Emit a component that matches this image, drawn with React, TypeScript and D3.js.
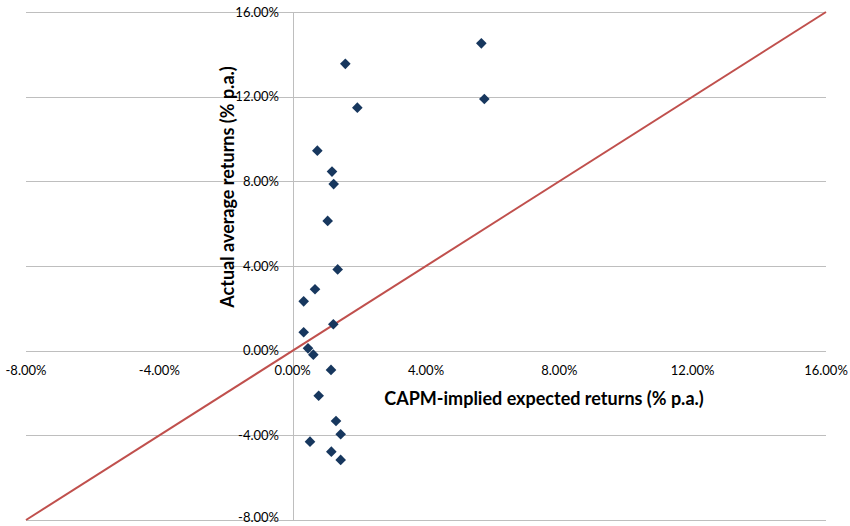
import React from "react";
import * as d3 from "d3";

const capmExpected = [1.58, 1.94, 0.74, 1.18, 1.23, 1.05, 1.35, 0.67, 0.33, 1.22, 0.33, 0.46, 0.62, 1.15, 0.78, 1.30, 1.44, 0.52, 1.16, 1.44, 5.66, 5.75];
const actualAverage = [13.55, 11.48, 9.45, 8.46, 7.87, 6.13, 3.84, 2.90, 2.33, 1.25, 0.87, 0.11, -0.19, -0.91, -2.13, -3.32, -3.95, -4.30, -4.77, -5.16, 14.52, 11.89];
const xTicks = [-8, -4, 0, 4, 8, 12, 16];
const yTicks = [-8, -4, 0, 4, 8, 12, 16];
const xTitle = "CAPM-implied expected returns (% p.a.)";
const yTitle = "Actual average returns (% p.a.)";

const W = 850;
const H = 526;

export default function App() {
  const x = d3.scaleLinear().domain([-8, 16]).range([26, 826]);
  const y = d3.scaleLinear().domain([-8, 16]).range([520, 12]);
  const fmt = (v: number) => v.toFixed(2) + "%";
  const diamond = d3.symbol().type(d3.symbolDiamond2).size(72)();
  const line = d3.line<number>().x((d) => x(d)).y((d) => y(d))([-8, 16]);
  const font = "Lato, 'Open Sans', sans-serif";

  return (
    <svg width={W} height={H} style={{ position: "absolute", left: 0, top: 0, background: "#fff" }}>
      {yTicks.map((t) => (
        <line key={"g" + t} x1={x(-8)} x2={x(16)} y1={Math.round(y(t)) + 0.5} y2={Math.round(y(t)) + 0.5} stroke="#BEBEBE" strokeWidth={1} />
      ))}
      <line x1={Math.round(x(0)) + 0.5} x2={Math.round(x(0)) + 0.5} y1={y(16)} y2={y(-8)} stroke="#BEBEBE" strokeWidth={1} />
      {yTicks.map((t) => (
        <text key={"yl" + t} x={279} y={Math.min(y(t), 517)} dy="0.35em" textAnchor="end" fontFamily={font} fontSize={13} fill="#000">
          {fmt(t)}
        </text>
      ))}
      {xTicks.map((t) => (
        <text key={"xl" + t} x={x(t)} y={370} dy="0.35em" textAnchor="middle" fontFamily={font} fontSize={13} fill="#000">
          {fmt(t)}
        </text>
      ))}
      <path d={line ?? ""} stroke="#C0504D" strokeWidth={2} fill="none" />
      {capmExpected.map((cx, i) => (
        <path key={"p" + i} d={diamond ?? ""} transform={`translate(${x(cx)},${y(actualAverage[i])})`} fill="#17375E" />
      ))}
      <text x={544} y={399} dy="0.35em" textAnchor="middle" fontFamily={font} fontWeight="bold" fontSize={18} fill="#000">
        {xTitle}
      </text>
      <text transform={`translate(228,187) rotate(-90)`} dy="0.35em" textAnchor="middle" fontFamily={font} fontWeight="bold" fontSize={18} fill="#000">
        {yTitle}
      </text>
    </svg>
  );
}
